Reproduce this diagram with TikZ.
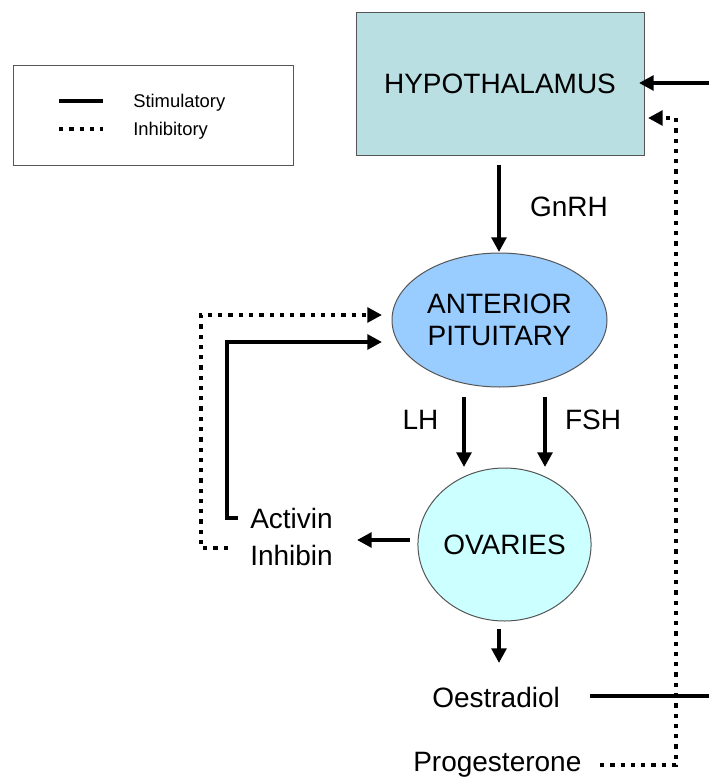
\documentclass[tikz,border=0pt]{standalone}
\usepackage{fontspec}
\setmainfont{Liberation Sans}
\usetikzlibrary{shapes.geometric,arrows.meta}
\definecolor{hypfill}{HTML}{B9DFE3}
\definecolor{pitfill}{HTML}{99CCFF}
\definecolor{ovfill}{HTML}{CCFFFF}
\definecolor{edgegray}{HTML}{555555}
\begin{document}
\begin{tikzpicture}[x=0.75pt,y=-0.75pt,
  big/.style={font=\fontsize{21}{24}\selectfont, inner sep=0pt},
  small/.style={font=\fontsize{13.8}{16}\selectfont, inner sep=0pt, anchor=base west},
  stim/.style={line width=3.2pt, line cap=butt},
  inhib/.style={line width=3.2pt, line cap=butt, dash pattern=on 3.2pt off 4.5pt},
  tip/.style={-{Triangle[length=11pt,width=11pt]}},
  organ/.style={draw=edgegray, line width=0.75pt, big, align=center}]
\useasboundingbox (0,0) rectangle (709,778);

% legend
\node[draw=edgegray, line width=0.75pt, minimum width=210pt, minimum height=75pt, inner sep=0pt] (legend) at (153,115) {};
\coordinate (ls1) at (59,101); \coordinate (ls2) at (103,101);
\coordinate (li1) at (59,129); \coordinate (li2) at (103,129);
\draw[stim] (ls1) -- (ls2);
\draw[inhib] (li1) -- (li2);
\node[small] (lstim) at (133,107) {Stimulatory};
\node[small] (linh) at (133,135) {Inhibitory};

% organs
\node[organ, rectangle, fill=hypfill, minimum width=216pt, minimum height=107.25pt] (hyp) at (500,83.5) {HYPOTHALAMUS};
\node[organ, ellipse, fill=pitfill, minimum width=161.25pt, minimum height=100.5pt] (pit) at (499.5,320) {ANTERIOR\\PITUITARY};
\node[organ, ellipse, fill=ovfill, minimum width=129.75pt, minimum height=114.75pt] (ov) at (504.5,544.5) {OVARIES};

% labels
\node[big] (gnrh) at (569,207) {GnRH};
\node[big] (lh) at (420.5,420) {LH};
\node[big] (fsh) at (593,420) {FSH};
\node[big, anchor=base west] (act) at (250,528) {Activin};
\node[big, anchor=base west] (inh) at (250,565) {Inhibin};
\node[big, anchor=base west] (oes) at (432,707) {Oestradiol};
\node[big, anchor=base west] (prog) at (413,771) {Progesterone};

% GnRH
\draw[stim,tip] ([yshift=-6.75pt]hyp.south -| 499,0) -- (499,252);
% LH FSH
\coordinate (lhs) at (464,397); \coordinate (lhe) at (464,467);
\coordinate (fss) at (545,397); \coordinate (fse) at (545,467);
\draw[stim,tip] (lhs) -- (lhe);
\draw[stim,tip] (fss) -- (fse);
% ovaries -> activin/inhibin
\coordinate (ovw) at (410,540); \coordinate (aie) at (357,540);
\draw[stim,tip] (ovw) -- (aie);
% ovaries -> oestradiol
\coordinate (ovs) at (499,629); \coordinate (oen) at (499,663);
\draw[stim,tip] (ovs) -- (oen);
% activin feedback (stimulatory)
\coordinate (a1) at (238,518); \coordinate (a2) at (227,518);
\coordinate (a3) at (227,342); \coordinate (a4) at (382,342);
\draw[stim,tip] (a1) -- (a2) -- (a3) -- (a4);
% inhibin feedback (inhibitory)
\coordinate (i1) at (228,548); \coordinate (i2) at (201,548);
\coordinate (i3) at (201,315); \coordinate (i4) at (382,315);
\draw[inhib] (i1) -- (i2) -- (i3) -- (375,315);
\draw[stim,tip] (372,315) -- (i4);
% oestradiol -> hypothalamus (stimulatory)
\coordinate (o1) at (590,696); \coordinate (o2) at (716,696);
\coordinate (o3) at (716,83); \coordinate (o4) at (639,83);
\draw[stim,tip] (o1) -- (o2) -- (o3) -- (o4);
% progesterone -> hypothalamus (inhibitory)
\coordinate (p1) at (600,765); \coordinate (p2) at (676,765);
\coordinate (p3) at (676,118); \coordinate (p4) at (648,118);
\draw[inhib] (p1) -- (p2) -- (p3) -- (662,118);
\draw[stim,tip] (660,118) -- (p4);
\end{tikzpicture}
\end{document}
